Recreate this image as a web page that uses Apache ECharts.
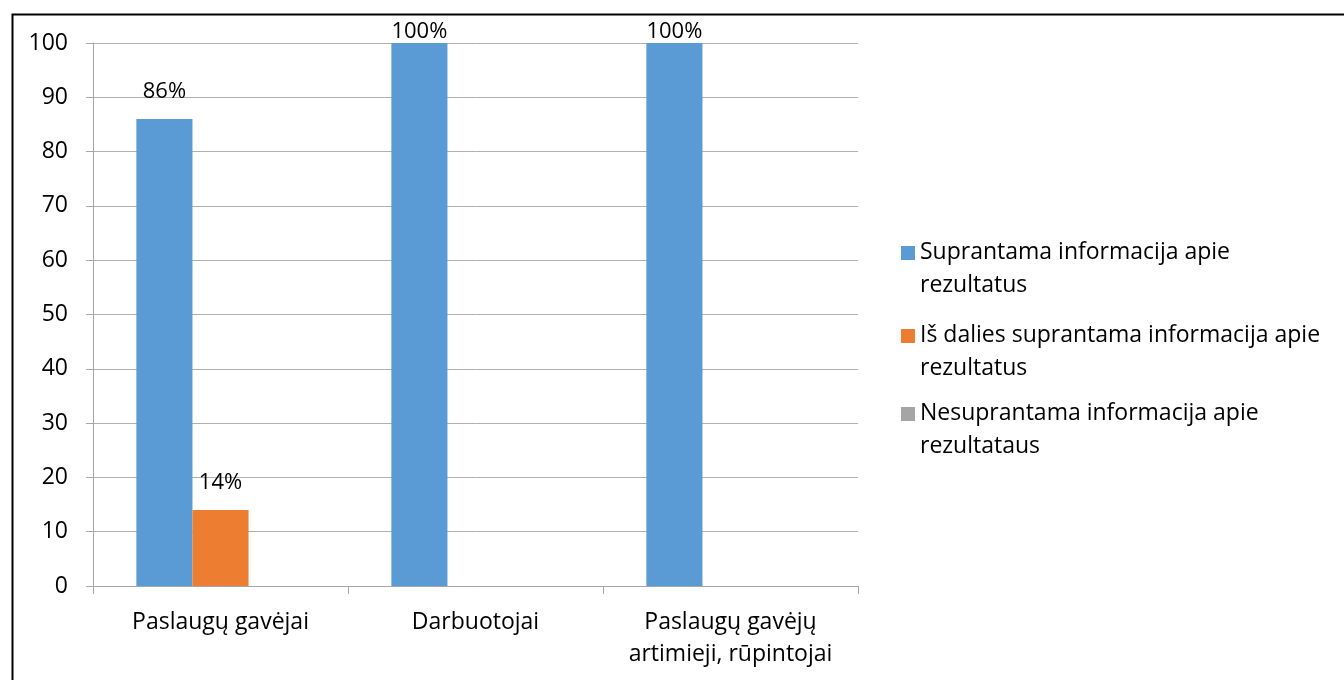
<!DOCTYPE html>
<html>
<head>
<meta charset="utf-8">
<script src="https://cdn.jsdelivr.net/npm/echarts@6/dist/echarts.min.js"></script>
<style>
  html, body { margin: 0; padding: 0; background: #fff; }
  #chart { width: 1344px; height: 680px; }
</style>
</head>
<body>
<div id="chart"></div>
<script>
(function () {
  "use strict";

  var categories = ["Paslaugų gavėjai", "Darbuotojai", "Paslaugų gavėjų\nartimieji, rūpintojai"];
  var seriesNames = [
    "Suprantama informacija apie\nrezultatus",
    "Iš dalies suprantama informacija apie\nrezultatus",
    "Nesuprantama informacija apie\nrezultataus"
  ];
  var understood = [86, 100, 100];
  var partly = [14, 0, 0];
  var notUnderstood = [0, 0, 0];
  var colors = ["#5b9bd5", "#ed7d31", "#a5a5a5"];
  var legendTops = [231, 314, 392];

  var font = "'Open Sans', sans-serif";
  var textColor = "#000";
  var lineColor = "#a6a6a6";
  // square on the first text line: icon box is as tall as the two-line text
  var legendIcon = "path://M0 0L0 0M0 10h14v14H0zM14 66L14 66";

  function toItems(values) {
    return values.map(function (v) {
      return { value: v, label: { distance: v >= 100 ? 0 : 16 } };
    });
  }

  var valueSets = [understood, partly, notUnderstood];
  var series = valueSets.map(function (values, i) {
    return {
      name: seriesNames[i], type: "bar", data: toItems(values),
      barGap: "0%", barCategoryGap: "34%",
      itemStyle: { color: colors[i] },
      label: {
        show: true, position: "top", color: textColor, fontFamily: font, fontSize: 22,
        formatter: function (p) { return p.value ? p.value + "%" : ""; }
      }
    };
  });

  var legends = seriesNames.map(function (name, i) {
    return {
      data: [name], left: 896, top: legendTops[i], orient: "vertical",
      itemWidth: 14, itemHeight: 66, itemGap: 0, icon: legendIcon,
      symbolKeepAspect: false, selectedMode: false,
      textStyle: { color: textColor, fontFamily: font, fontSize: 23, lineHeight: 33 }
    };
  });

  var chart = echarts.init(document.getElementById("chart"));
  chart.setOption({
    animation: false,
    grid: { left: 93, right: 486, top: 43, bottom: 94, containLabel: false },
    legend: legends,
    xAxis: {
      type: "category", data: categories,
      axisLine: { lineStyle: { color: lineColor } },
      axisTick: { show: true, interval: 0, length: 8, lineStyle: { color: lineColor } },
      axisLabel: { interval: 0, hideOverlap: false, color: textColor, fontFamily: font, fontSize: 23, lineHeight: 32, margin: 20 }
    },
    yAxis: {
      type: "value", min: 0, max: 100, interval: 10,
      axisLine: { show: true, lineStyle: { color: lineColor } },
      axisTick: { show: true, length: 7, lineStyle: { color: lineColor } },
      splitLine: { lineStyle: { color: "#b0b0b0" } },
      axisLabel: { color: textColor, fontFamily: font, fontSize: 23, margin: 25 }
    },
    graphic: [{
      type: "rect", left: 10, top: 12, silent: true,
      shape: { width: 1340, height: 680 },
      style: { fill: "none", stroke: "#000", lineWidth: 2 }
    }],
    series: series
  });
  window.addEventListener("resize", function () { chart.resize(); });
})();
</script>
</body>
</html>
